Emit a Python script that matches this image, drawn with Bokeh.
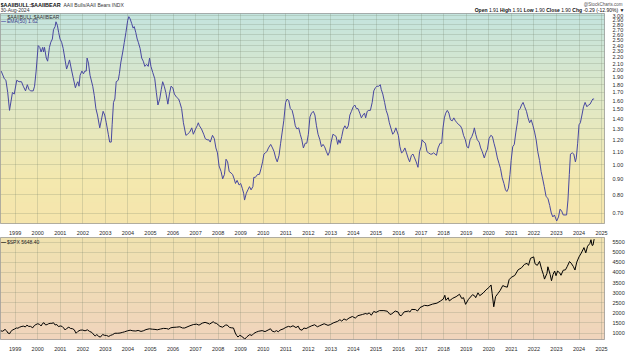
import numpy as np
from bokeh.plotting import figure
from bokeh.layouts import column
from bokeh.models import FixedTicker, PrintfTickFormatter, Label, Range1d
from bokeh.embed import file_html
from bokeh.resources import INLINE

# ---------------- data ----------------
ratio_dates = [
    1998.38, 1998.52, 1998.59, 1998.67, 1998.75, 1998.88, 1998.96, 1999.07, 1999.17, 1999.28,
    1999.36, 1999.46, 1999.54, 1999.61, 1999.68, 1999.80, 1999.86, 1999.93, 2000.02, 2000.09,
    2000.15, 2000.22, 2000.26, 2000.30, 2000.38, 2000.44, 2000.52, 2000.58, 2000.65, 2000.70,
    2000.77, 2000.81, 2000.87, 2000.93, 2000.99, 2001.06, 2001.13, 2001.20, 2001.28, 2001.35,
    2001.41, 2001.49, 2001.57, 2001.67, 2001.74, 2001.78, 2001.83, 2001.88, 2001.96, 2002.03,
    2002.09, 2002.15, 2002.19, 2002.25, 2002.32, 2002.44, 2002.51, 2002.58, 2002.65, 2002.75,
    2002.84, 2002.90, 2002.97, 2003.04, 2003.13, 2003.19, 2003.26, 2003.30, 2003.36, 2003.42,
    2003.48, 2003.57, 2003.62, 2003.68, 2003.77, 2003.84, 2003.91, 2003.99, 2004.04, 2004.10,
    2004.17, 2004.23, 2004.28, 2004.35, 2004.41, 2004.46, 2004.54, 2004.61, 2004.68, 2004.75,
    2004.83, 2004.90, 2004.96, 2005.02, 2005.10, 2005.19, 2005.26, 2005.33, 2005.41, 2005.48,
    2005.54, 2005.61, 2005.68, 2005.77, 2005.84, 2005.91, 2005.99, 2006.06, 2006.16, 2006.25,
    2006.30, 2006.38, 2006.46, 2006.57, 2006.64, 2006.74, 2006.83, 2006.90, 2007.00, 2007.07,
    2007.12, 2007.17, 2007.26, 2007.36, 2007.43, 2007.51, 2007.58, 2007.65, 2007.75, 2007.83,
    2007.90, 2007.97, 2008.04, 2008.13, 2008.20, 2008.28, 2008.35, 2008.42, 2008.49, 2008.57,
    2008.64, 2008.71, 2008.77, 2008.84, 2008.93, 2009.00, 2009.07, 2009.13, 2009.17, 2009.25,
    2009.32, 2009.39, 2009.46, 2009.54, 2009.58, 2009.65, 2009.75, 2009.83, 2009.90, 2009.97,
    2010.03, 2010.09, 2010.16, 2010.23, 2010.33, 2010.41, 2010.48, 2010.55, 2010.62, 2010.70,
    2010.77, 2010.84, 2010.91, 2010.99, 2011.06, 2011.13, 2011.20, 2011.28, 2011.35, 2011.42,
    2011.49, 2011.57, 2011.64, 2011.71, 2011.78, 2011.86, 2011.93, 2012.00, 2012.07, 2012.14,
    2012.22, 2012.29, 2012.36, 2012.43, 2012.51, 2012.58, 2012.65, 2012.72, 2012.80, 2012.87,
    2012.94, 2013.01, 2013.09, 2013.16, 2013.23, 2013.30, 2013.35, 2013.41, 2013.48, 2013.55,
    2013.62, 2013.70, 2013.77, 2013.84, 2013.91, 2013.99, 2014.06, 2014.13, 2014.20, 2014.28,
    2014.35, 2014.42, 2014.49, 2014.54, 2014.61, 2014.68, 2014.75, 2014.83, 2014.90, 2014.97,
    2015.04, 2015.12, 2015.19, 2015.23, 2015.30, 2015.38, 2015.45, 2015.52, 2015.59, 2015.67,
    2015.74, 2015.81, 2015.88, 2015.99, 2016.06, 2016.13, 2016.20, 2016.28, 2016.35, 2016.42,
    2016.49, 2016.57, 2016.64, 2016.71, 2016.78, 2016.86, 2016.93, 2017.00, 2017.04, 2017.12,
    2017.19, 2017.26, 2017.33, 2017.41, 2017.48, 2017.55, 2017.62, 2017.68, 2017.75, 2017.84,
    2017.91, 2017.97, 2018.03, 2018.09, 2018.16, 2018.23, 2018.30, 2018.38, 2018.45, 2018.52,
    2018.59, 2018.67, 2018.74, 2018.81, 2018.88, 2018.96, 2019.03, 2019.10, 2019.17, 2019.25,
    2019.32, 2019.36, 2019.42, 2019.49, 2019.57, 2019.64, 2019.71, 2019.80, 2019.87, 2019.94,
    2020.01, 2020.09, 2020.16, 2020.23, 2020.30, 2020.38, 2020.45, 2020.52, 2020.59, 2020.67,
    2020.74, 2020.80, 2020.87, 2020.94, 2020.99, 2021.06, 2021.13, 2021.20, 2021.28, 2021.32,
    2021.39, 2021.45, 2021.52, 2021.59, 2021.67, 2021.74, 2021.81, 2021.88, 2021.96, 2022.03,
    2022.10, 2022.17, 2022.25, 2022.32, 2022.39, 2022.46, 2022.54, 2022.62, 2022.70, 2022.77,
    2022.84, 2022.91, 2023.01, 2023.09, 2023.16, 2023.23, 2023.30, 2023.38, 2023.45, 2023.51,
    2023.57, 2023.62, 2023.70, 2023.77, 2023.84, 2023.88, 2023.94, 2024.00, 2024.06, 2024.13,
    2024.20, 2024.27, 2024.35, 2024.42, 2024.49, 2024.57, 2024.61, 2024.67,
]
ratio_values = [
    1.99, 1.88, 1.86, 1.70, 1.49, 1.70, 1.68, 1.86, 1.84, 1.84,
    1.78, 1.72, 1.80, 1.74, 1.72, 1.72, 1.78, 1.99, 2.40, 2.37,
    2.29, 2.37, 2.29, 2.37, 2.19, 2.14, 2.37, 2.46, 2.52, 2.70,
    2.76, 2.86, 2.79, 2.64, 2.52, 2.46, 2.35, 2.19, 2.02, 2.09,
    2.16, 2.02, 1.90, 1.76, 1.82, 1.84, 1.78, 1.93, 1.99, 1.95,
    1.99, 1.99, 2.19, 2.11, 1.93, 1.78, 1.66, 1.51, 1.44, 1.31,
    1.41, 1.48, 1.44, 1.36, 1.25, 1.18, 1.18, 1.34, 1.58, 1.62,
    1.84, 1.86, 1.95, 2.11, 2.29, 2.46, 2.64, 2.89, 2.97, 2.92,
    2.82, 2.73, 2.76, 2.64, 2.52, 2.46, 2.35, 2.19, 2.14, 2.06,
    2.09, 2.06, 2.19, 2.06, 1.97, 1.88, 1.70, 1.55, 1.62, 1.74,
    1.84, 1.78, 1.70, 1.56, 1.68, 1.78, 1.76, 1.68, 1.64, 1.62,
    1.58, 1.51, 1.36, 1.24, 1.25, 1.27, 1.31, 1.25, 1.30, 1.33,
    1.36, 1.33, 1.30, 1.25, 1.21, 1.20, 1.20, 1.18, 1.24, 1.21,
    1.13, 1.09, 0.99, 0.95, 0.90, 0.93, 1.04, 1.02, 0.95, 0.94,
    0.93, 0.90, 0.87, 0.89, 0.86, 0.87, 0.84, 0.81, 0.77, 0.81,
    0.83, 0.85, 0.83, 0.85, 0.91, 0.91, 0.93, 0.93, 0.97, 1.02,
    1.08, 1.09, 1.10, 1.13, 1.16, 1.13, 1.10, 1.05, 1.02, 1.07,
    1.17, 1.27, 1.38, 1.58, 1.62, 1.60, 1.51, 1.49, 1.42, 1.33,
    1.30, 1.31, 1.25, 1.20, 1.13, 1.17, 1.17, 1.25, 1.42, 1.46,
    1.48, 1.44, 1.33, 1.25, 1.20, 1.14, 1.16, 1.14, 1.10, 1.07,
    1.10, 1.18, 1.25, 1.24, 1.23, 1.16, 1.20, 1.17, 1.23, 1.30,
    1.33, 1.30, 1.33, 1.44, 1.48, 1.53, 1.55, 1.51, 1.51, 1.46,
    1.41, 1.44, 1.46, 1.41, 1.48, 1.49, 1.49, 1.58, 1.72, 1.76,
    1.78, 1.78, 1.80, 1.74, 1.68, 1.58, 1.49, 1.44, 1.36, 1.30,
    1.25, 1.27, 1.31, 1.24, 1.14, 1.09, 1.10, 1.13, 1.09, 1.05,
    1.02, 1.07, 1.08, 1.05, 1.02, 0.98, 1.10, 1.14, 1.20, 1.18,
    1.17, 1.10, 1.09, 1.08, 1.08, 1.09, 1.08, 1.07, 1.13, 1.17,
    1.17, 1.31, 1.41, 1.46, 1.49, 1.46, 1.39, 1.38, 1.41, 1.38,
    1.36, 1.34, 1.33, 1.30, 1.24, 1.20, 1.14, 1.13, 1.20, 1.23,
    1.27, 1.31, 1.25, 1.20, 1.18, 1.13, 1.10, 1.05, 1.09, 1.12,
    1.21, 1.24, 1.23, 1.17, 1.12, 1.05, 1.01, 0.97, 0.91, 0.87,
    0.83, 0.82, 0.84, 0.93, 1.03, 1.14, 1.16, 1.27, 1.38, 1.49,
    1.51, 1.55, 1.58, 1.53, 1.48, 1.41, 1.36, 1.39, 1.33, 1.27,
    1.20, 1.10, 1.03, 0.95, 0.90, 0.85, 0.79, 0.78, 0.74, 0.70,
    0.68, 0.69, 0.66, 0.68, 0.72, 0.71, 0.69, 0.69, 0.69, 0.77,
    0.93, 1.08, 1.09, 1.08, 1.02, 1.05, 1.17, 1.34, 1.36, 1.44,
    1.53, 1.58, 1.53, 1.55, 1.56, 1.60, 1.62, 1.62,
]

spx_dates = [
    1998.35, 1998.45, 1998.55, 1998.62, 1998.68, 1998.76, 1998.80, 1998.90, 1998.98, 1999.05,
    1999.12, 1999.20, 1999.30, 1999.38, 1999.45, 1999.52, 1999.60, 1999.68, 1999.78, 1999.85,
    1999.92, 2000.00, 2000.08, 2000.15, 2000.22, 2000.28, 2000.35, 2000.42, 2000.48, 2000.55,
    2000.63, 2000.70, 2000.77, 2000.85, 2000.92, 2001.00, 2001.08, 2001.15, 2001.22, 2001.30,
    2001.38, 2001.45, 2001.55, 2001.62, 2001.70, 2001.78, 2001.88, 2001.98, 2002.10, 2002.20,
    2002.30, 2002.40, 2002.50, 2002.55, 2002.62, 2002.70, 2002.78, 2002.88, 2002.95, 2003.05,
    2003.15, 2003.22, 2003.32, 2003.42, 2003.55, 2003.65, 2003.75, 2003.85, 2003.98, 2004.10,
    2004.22, 2004.35, 2004.45, 2004.58, 2004.68, 2004.80, 2004.95, 2005.08, 2005.20, 2005.30,
    2005.45, 2005.58, 2005.72, 2005.80, 2005.90, 2006.00, 2006.15, 2006.30, 2006.42, 2006.52,
    2006.62, 2006.75, 2006.90, 2007.05, 2007.15, 2007.30, 2007.42, 2007.55, 2007.62, 2007.78,
    2007.85, 2007.92, 2008.00, 2008.08, 2008.20, 2008.32, 2008.40, 2008.50, 2008.58, 2008.68,
    2008.76, 2008.82, 2008.88, 2008.96, 2009.05, 2009.15, 2009.18, 2009.28, 2009.40, 2009.50,
    2009.58, 2009.70, 2009.80, 2009.95, 2010.08, 2010.25, 2010.32, 2010.40, 2010.50, 2010.58,
    2010.67, 2010.75, 2010.88, 2011.00, 2011.12, 2011.20, 2011.32, 2011.45, 2011.55, 2011.62,
    2011.72, 2011.80, 2011.90, 2012.00, 2012.15, 2012.28, 2012.40, 2012.50, 2012.70, 2012.87,
    2012.98, 2013.10, 2013.30, 2013.40, 2013.48, 2013.58, 2013.68, 2013.80, 2013.95, 2014.08,
    2014.20, 2014.40, 2014.55, 2014.60, 2014.70, 2014.79, 2014.90, 2015.00, 2015.15, 2015.35,
    2015.50, 2015.62, 2015.70, 2015.85, 2015.98, 2016.05, 2016.12, 2016.25, 2016.45, 2016.50,
    2016.58, 2016.75, 2016.84, 2016.95, 2017.15, 2017.30, 2017.50, 2017.70, 2017.85, 2017.98,
    2018.05, 2018.10, 2018.20, 2018.25, 2018.40, 2018.55, 2018.70, 2018.80, 2018.88, 2018.97,
    2019.10, 2019.28, 2019.38, 2019.42, 2019.52, 2019.60, 2019.75, 2019.88, 2020.00, 2020.10,
    2020.15, 2020.22, 2020.30, 2020.40, 2020.50, 2020.62, 2020.72, 2020.82, 2020.90, 2021.00,
    2021.15, 2021.30, 2021.45, 2021.58, 2021.70, 2021.76, 2021.85, 2021.99, 2022.05, 2022.15,
    2022.25, 2022.35, 2022.42, 2022.47, 2022.58, 2022.62, 2022.72, 2022.78, 2022.85, 2022.92,
    2022.98, 2023.05, 2023.15, 2023.20, 2023.30, 2023.40, 2023.48, 2023.58, 2023.65, 2023.75,
    2023.82, 2023.90, 2024.00, 2024.10, 2024.22, 2024.30, 2024.38, 2024.48, 2024.53, 2024.58,
    2024.62, 2024.67,
]
spx_values = [
    1110, 1090, 1180, 1110, 1000, 970, 1070, 1160, 1200, 1250,
    1240, 1290, 1330, 1340, 1300, 1390, 1330, 1330, 1260, 1370,
    1420, 1460, 1430, 1350, 1480, 1510, 1400, 1420, 1460, 1480,
    1480, 1510, 1400, 1420, 1320, 1350, 1330, 1250, 1150, 1240,
    1290, 1230, 1210, 1160, 990, 1080, 1140, 1150, 1110, 1160,
    1080, 1030, 900, 850, 930, 830, 800, 930, 890, 880,
    830, 880, 920, 990, 990, 1000, 1030, 1060, 1110, 1140,
    1110, 1100, 1130, 1080, 1110, 1170, 1210, 1190, 1180, 1160,
    1200, 1230, 1220, 1190, 1260, 1280, 1290, 1310, 1250, 1250,
    1300, 1360, 1420, 1440, 1390, 1490, 1530, 1480, 1440, 1560,
    1500, 1480, 1410, 1330, 1290, 1390, 1400, 1280, 1260, 1250,
    1000, 880, 800, 890, 830, 740, 700, 820, 920, 880,
    980, 1050, 1090, 1120, 1070, 1170, 1210, 1090, 1060, 1120,
    1060, 1150, 1200, 1280, 1330, 1300, 1360, 1270, 1340, 1180,
    1140, 1250, 1220, 1280, 1360, 1410, 1310, 1360, 1460, 1380,
    1420, 1500, 1580, 1660, 1590, 1700, 1640, 1740, 1820, 1740,
    1860, 1920, 1970, 1930, 2000, 1880, 2070, 2020, 2110, 2110,
    2080, 1920, 1950, 2090, 2040, 1880, 1860, 2050, 2090, 2040,
    2170, 2160, 2090, 2260, 2370, 2350, 2430, 2480, 2580, 2680,
    2870, 2620, 2750, 2590, 2720, 2800, 2920, 2710, 2750, 2420,
    2670, 2900, 2830, 2750, 2990, 2850, 2980, 3140, 3250, 3380,
    2950, 2300, 2800, 2950, 3100, 3350, 3300, 3270, 3640, 3760,
    3850, 4130, 4230, 4400, 4450, 4350, 4700, 4770, 4430, 4350,
    4550, 4130, 3900, 3670, 3960, 4280, 3900, 3590, 3900, 4070,
    3840, 4070, 3970, 3860, 4110, 4130, 4300, 4540, 4460, 4290,
    4120, 4510, 4770, 4960, 5230, 4970, 5300, 5430, 5620, 5340,
    5350, 5648,
]

year_ticks = [1999, 2000, 2001, 2002, 2003, 2004, 2005, 2006, 2007, 2008, 2009, 2010, 2011,
              2012, 2013, 2014, 2015, 2016, 2017, 2018, 2019, 2020, 2021, 2022, 2023, 2024, 2025]
ratio_ticks = [0.70, 0.80, 0.90, 1.00, 1.10, 1.20, 1.30, 1.40, 1.50, 1.60, 1.70, 1.80, 1.90,
               2.00, 2.10, 2.20, 2.30, 2.40, 2.50, 2.60, 2.70, 2.80, 2.90, 3.00]
spx_ticks = [1000, 1500, 2000, 2500, 3000, 3500, 4000, 4500, 5000, 5500]

# ---------------- styling ----------------
FONT = "Liberation Sans"
FW = 604
HEAD_H = 13
TOP_H = 210
BOT_H = 102
X0, X1 = 1998.35, 2025.13
R0, R1 = 0.648, 3.04
S0, S1 = 680, 5730
LINE_BLUE = "#4848a0"


def gradient(stops, n):
    """Vertical RGBA gradient image; stops are (t_from_top, (r,g,b))."""
    img = np.zeros((n, 1), dtype=np.uint32)
    view = img.view(dtype=np.uint8).reshape((n, 1, 4))
    ts = [s[0] for s in stops]
    for i in range(n):
        t = 1.0 - i / (n - 1)          # row 0 is the bottom
        for c in range(3):
            view[i, 0, c] = int(round(np.interp(t, ts, [s[1][c] for s in stops])))
        view[i, 0, 3] = 255
    return img


def style(fig, yticks, yfmt):
    fig.xaxis.ticker = FixedTicker(ticks=year_ticks)
    fig.xaxis.formatter = PrintfTickFormatter(format="%d")
    fig.yaxis.ticker = FixedTicker(ticks=yticks)
    fig.yaxis.formatter = PrintfTickFormatter(format=yfmt)
    for ax in (fig.xaxis, fig.yaxis):
        ax.major_label_text_font = FONT
        ax.major_label_text_font_size = "5.5px"
        ax.major_label_text_color = "#2a2a2a"
        ax.major_tick_line_color = None
        ax.minor_tick_line_color = None
        ax.axis_line_color = None
        ax.major_label_standoff = 2
    fig.xaxis.major_label_standoff = 1
    fig.grid.grid_line_color = "#6d7a62"
    fig.grid.grid_line_alpha = 0.22
    fig.outline_line_color = "#9a9a9a"
    fig.outline_line_width = 1
    fig.border_fill_color = "white"


def label(fig, x, y, text, size="5px", bold=False, color="#222222", align="left"):
    fig.add_layout(Label(x=x, y=y, x_units="screen", y_units="screen", text=text,
                         text_font=FONT, text_font_size=size,
                         text_font_style="bold" if bold else "normal",
                         text_color=color, text_align=align, text_baseline="middle"))


x_range = Range1d(X0, X1)

# ---- header strip (texts above the chart) ----
head = figure(frame_width=FW + 20, frame_height=HEAD_H, x_range=Range1d(0, 1), y_range=Range1d(0, 1),
              output_backend="svg", toolbar_location=None, min_border_left=0, min_border_right=0,
              min_border_top=0, min_border_bottom=0)
head.axis.visible = False
head.grid.visible = False
head.outline_line_color = None
head.background_fill_color = "white"
head.border_fill_color = "white"

# ---- top panel: ratio ----
top = figure(frame_width=FW, frame_height=TOP_H, x_range=x_range, y_range=Range1d(R0, R1),
             y_axis_type="log", y_axis_location="right", output_backend="svg",
             toolbar_location=None, min_border_left=0, min_border_right=20,
             min_border_top=0, min_border_bottom=0)
style(top, ratio_ticks, "%.2f")
top_grad = gradient([(0.0, (196, 228, 222)), (0.45, (226, 232, 196)),
                     (0.80, (244, 232, 174)), (1.0, (245, 229, 172))], TOP_H)
top.image_rgba(image=[top_grad], x=X0, y=R0, dw=X1 - X0, dh=R1 - R0, level="image")
top.line(ratio_dates, ratio_values, line_color=LINE_BLUE, line_width=1)

# ---- bottom panel: S&P 500 ----
bot = figure(frame_width=FW, frame_height=BOT_H, x_range=x_range, y_range=Range1d(S0, S1),
             y_axis_location="right", output_backend="svg", toolbar_location=None,
             min_border_left=0, min_border_right=20, min_border_top=0, min_border_bottom=0)
style(bot, spx_ticks, "%d")
bot_grad = gradient([(0.0, (240, 226, 176)), (1.0, (240, 212, 188))], BOT_H)
bot.image_rgba(image=[bot_grad], x=X0, y=S0, dw=X1 - X0, dh=S1 - S0, level="image")
bot.line(spx_dates, spx_values, line_color="black", line_width=1)

# ---------------- header texts ----------------
label(head, 0, 9, "$AAIIBULL:$AAIIBEAR", size="5.5px", bold=True, color="#111111")
label(head, 63, 9, "AAII Bulls/AAII Bears INDX", size="5px", color="#333333")
label(head, 0, 3.2, "30-Aug-2024", size="5px", color="#333333")
label(head, 622, 9.5, "@StockCharts.com", size="4.5px", color="#555555", align="right")

# quote line, laid out right-aligned with estimated glyph widths
widths_n = {c: 0.556 for c in "0123456789"}
widths_n.update({".": 0.278, " ": 0.278, "-": 0.333, "(": 0.333, ")": 0.333, "%": 0.889, "\u25bc": 0.6})
widths_b = {"O": 0.778, "p": 0.611, "e": 0.556, "n": 0.611, "H": 0.722, "i": 0.278, "g": 0.611,
            "h": 0.611, "L": 0.611, "o": 0.611, "w": 0.778, "C": 0.722, "l": 0.278, "s": 0.556}
pieces = [("Open", True), ("1.91", False), ("High", True), ("1.91", False), ("Low", True),
          ("1.90", False), ("Close", True), ("1.90", False), ("Chg", True),
          ("-0.29 (-12.90%) \u25bc", False)]
fs = 5.0
space = 0.278 * fs


def wid(t, b):
    table = widths_b if b else widths_n
    return sum(table.get(ch, 0.56) for ch in t) * fs


total = sum(wid(t, b) for t, b in pieces) + space * (len(pieces) - 1)
xx = 622 - total
for t, b in pieces:
    label(head, xx, 3.2, t, size="5px", bold=b, color="#111111")
    xx += wid(t, b) + space

# ---------------- legends ----------------
label(top, 7, TOP_H - 3, "$AAIIBULL:$AAIIBEAR", size="5px", color="#333333")
label(top, 0.5, TOP_H - 7.5, "\u2014", size="5px", bold=True, color=LINE_BLUE)
label(top, 6.5, TOP_H - 7.5, "EMA(50) 1.62", size="5px", color="#3c3c8c")
label(bot, 0.5, BOT_H - 4, "\u2014", size="5px", bold=True, color="black")
label(bot, 6.5, BOT_H - 4, "$SPX 5648.40", size="5px", color="#222222")

layout = column(head, top, bot)
open("out.html", "w").write(file_html(layout, INLINE))
